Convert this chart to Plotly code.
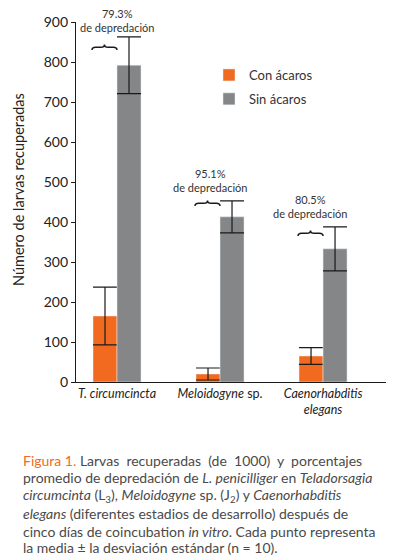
import plotly.graph_objects as go

categories = ["<i>T. circumcincta</i>", "<i>Meloidogyne</i> sp.", "<i>Caenorhabditis</i><br><i>elegans</i>"]
x_pos = [0, 1, 2]
con_acaros = [165, 20, 65]
con_sd = [72, 15, 21]
sin_acaros = [792, 413, 333]
sin_sd = [71, 40, 55]
pct_labels = ["79.3%", "95.1%", "80.5%"]
y_ticks = [0, 100, 200, 300, 400, 500, 600, 700, 800, 900]

ORANGE = "#F26A1F"
GRAY = "#858688"
FONT = "Lato"

OFF = 8  # default page margin of the html body
W, H = 394 - OFF, 557 - OFF
PL, PR, PT, PB = 76 - OFF, 390 - OFF, 22 - OFF, 382 - OFF  # plot area in figure pixels


def px_x(p):
    return (p - OFF - PL) / (PR - PL)


def px_y(p):
    return (PB - (p - OFF)) / (PB - PT)


fig = go.Figure()
fig.add_trace(go.Bar(
    x=x_pos, y=con_acaros, name="Con ácaros", marker_color=ORANGE,
    error_y=dict(type="data", array=con_sd, color="#1a1a1a", thickness=1.2, width=12),
    legendgroup="a",
))
fig.add_trace(go.Bar(
    x=x_pos, y=sin_acaros, name="Sin ácaros", marker_color=GRAY,
    error_y=dict(type="data", array=sin_sd, color="#1a1a1a", thickness=1.2, width=12),
    legendgroup="b",
))

# braces over orange bars and percentage annotations
bw = 0.233
brace_base = [830, 440, 365]
text_x = [0.0, 0.9, 1.87]
text_ypx = [20, 180, 206]
h = 14
q = 0.035
for i in range(3):
    x0 = x_pos[i] - bw - 0.01
    x1 = x_pos[i] + 0.0
    xm = (x0 + x1) / 2
    b = brace_base[i]
    path = (f"M {x0},{b} Q {x0},{b+h/2} {x0+q},{b+h/2} L {xm-q},{b+h/2} "
            f"Q {xm},{b+h/2} {xm},{b+h} Q {xm},{b+h/2} {xm+q},{b+h/2} "
            f"L {x1-q},{b+h/2} Q {x1},{b+h/2} {x1},{b}")
    fig.add_shape(type="path", path=path, xref="x", yref="y",
                  line=dict(color="#1a1a1a", width=1.5))
    fig.add_annotation(x=text_x[i], y=px_y(text_ypx[i]), xref="x", yref="paper",
                       text=f"{pct_labels[i]}<br>de depredación", showarrow=False,
                       yanchor="middle",
                       font=dict(family=FONT, size=11, color="#333333"))

# y-axis title
fig.add_annotation(x=px_x(18), y=px_y(190), xref="paper", yref="paper",
                   text="Número de larvas recuperadas", textangle=-90, showarrow=False,
                   xanchor="center", yanchor="middle",
                   font=dict(family=FONT, size=14.5, color="#222222"))

caption_lines = [
    "<span style='color:#F26A1F'>Figura 1.</span> Larvas  recuperadas  (de  1000)  y  porcentajes",
    "promedio de depredación de <i>L. penicilliger</i> en <i>Teladorsagia</i>",
    "<i>circumcinta</i> (L<sub>3</sub>), <i>Meloidogyne</i> sp. (J<sub>2</sub>) y <i>Caenorhabditis</i>",
    "<i>elegans</i> (diferentes estadios de desarrollo) después de",
    "cinco días de coincubation <i>in vitro</i>. Cada punto representa",
    "la media ± la desviación estándar (n = 10).",
]
line_y = [460, 477, 495, 513, 531, 547]
for t, yy in zip(caption_lines, line_y):
    fig.add_annotation(x=px_x(21), y=px_y(yy), xref="paper", yref="paper",
                       xanchor="left", yanchor="middle", text=t, showarrow=False,
                       font=dict(family=FONT, size=14, color="#4a4a4a"))

fig.update_layout(
    width=W, height=H,
    margin=dict(l=PL, r=W - PR, t=PT, b=H - PB, autoexpand=False),
    paper_bgcolor="white", plot_bgcolor="white",
    barmode="group", bargap=0.534, bargroupgap=0,
    font=dict(family=FONT, color="#222222"),
    showlegend=True,
    legend=dict(x=px_x(209), y=px_y(60), xanchor="left", yanchor="top",
                font=dict(family=FONT, size=13, color="#333333"),
                bgcolor="rgba(0,0,0,0)", traceorder="grouped", tracegroupgap=4),
    xaxis=dict(range=[-0.398, 2.65], automargin=False,
               tickvals=x_pos, ticktext=categories, showline=True, linecolor="#1a1a1a",
               linewidth=1.2, ticks="", showgrid=False, zeroline=False,
               tickfont=dict(family=FONT, size=12.5, color="#222222")),
    yaxis=dict(range=[0, 900], automargin=False,
               tickvals=y_ticks, showline=True, linecolor="#1a1a1a", linewidth=1.2,
               ticks="outside", ticklen=4, tickcolor="#1a1a1a", showgrid=False,
               zeroline=False, tickfont=dict(family=FONT, size=14, color="#222222")),
)

fig.write_html("out.html")
